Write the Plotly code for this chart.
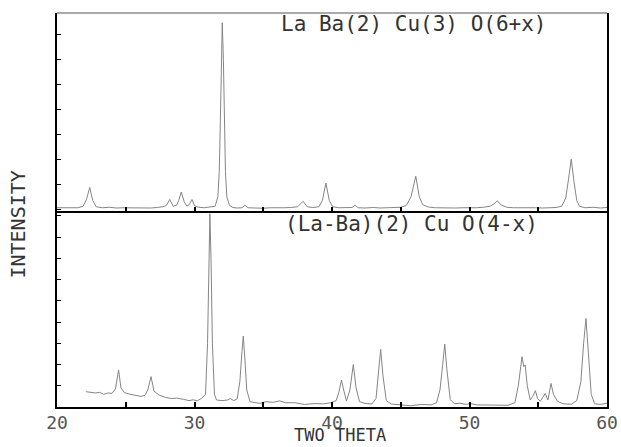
import plotly.graph_objects as go

# ---- data ----
# Top pattern: La Ba(2) Cu(3) O(6+x)
top_theta = [20.0, 20.5, 21.0, 21.5, 21.9, 22.15, 22.38, 22.6, 22.85, 23.3, 23.8, 24.3, 24.8, 25.3,
             25.8, 26.3, 26.8, 27.3, 27.7, 27.95, 28.2, 28.45, 28.7, 28.85, 29.04, 29.25, 29.45,
             29.6, 29.82, 30.0, 30.3, 30.7, 31.1, 31.5, 31.7, 31.8, 31.88, 31.95, 32.02, 32.1,
             32.17, 32.25, 32.35, 32.55, 32.8, 33.1, 33.45, 33.67, 33.9, 34.4, 35.0, 35.5, 36.0,
             36.5, 37.0, 37.5, 37.9, 38.2, 38.6, 39.05, 39.3, 39.56, 39.8, 40.05, 40.5, 41.0,
             41.45, 41.67, 41.9, 42.4, 43.0, 43.5, 44.0, 44.5, 45.0, 45.4, 45.75, 46.09, 46.35,
             46.6, 47.0, 47.5, 48.0, 48.5, 49.0, 49.5, 50.0, 50.5, 51.0, 51.5, 51.8, 52.0, 52.3,
             52.7, 53.2, 53.8, 54.3, 54.8, 55.3, 55.8, 56.3, 56.7, 57.0, 57.2, 57.4, 57.6, 57.8,
             58.0, 58.4, 59.0, 59.5, 60.0]
top_counts = [0.06, 0.05, 0.07, 0.06, 0.12, 0.40, 0.87, 0.35, 0.10, 0.06, 0.08, 0.05, 0.06, 0.05,
              0.07, 0.06, 0.05, 0.07, 0.10, 0.15, 0.39, 0.12, 0.16, 0.35, 0.69, 0.30, 0.12,
              0.18, 0.39, 0.14, 0.08, 0.06, 0.08, 0.12, 0.50, 1.50, 3.50, 6.00, 7.46, 6.00,
              3.50, 1.50, 0.50, 0.15, 0.07, 0.05, 0.06, 0.16, 0.06, 0.05, 0.04, 0.06, 0.05,
              0.06, 0.07, 0.10, 0.32, 0.10, 0.07, 0.10, 0.35, 1.05, 0.35, 0.10, 0.06, 0.05,
              0.07, 0.16, 0.06, 0.05, 0.07, 0.05, 0.06, 0.05, 0.08, 0.15, 0.50, 1.32, 0.50,
              0.18, 0.09, 0.06, 0.05, 0.07, 0.05, 0.06, 0.05, 0.06, 0.08, 0.12, 0.22, 0.34, 0.18,
              0.08, 0.06, 0.07, 0.05, 0.06, 0.05, 0.06, 0.07, 0.12, 0.45, 1.20, 2.00, 1.10, 0.35,
              0.12, 0.06, 0.08, 0.05, 0.07]

# Bottom pattern: (La-Ba)(2) Cu O(4-x)
bot_theta = [22.1, 22.4, 22.8, 23.1, 23.4, 23.7, 24.0, 24.25, 24.48, 24.65, 24.9, 25.3, 25.7, 26.1,
             26.4, 26.6, 26.84, 27.05, 27.4, 27.9, 28.3, 28.7, 29.2, 29.6, 29.9, 30.2, 30.5,
             30.8, 30.95, 31.05, 31.12, 31.2, 31.3, 31.45, 31.6, 32.0, 32.4, 32.6, 32.85, 33.1,
             33.3, 33.45, 33.55, 33.65, 33.8, 34.04, 34.4, 34.76, 35.2, 35.7, 36.2, 36.6, 37.3,
             38.0, 38.7, 39.4, 39.9, 40.3, 40.5, 40.69, 40.85, 41.05, 41.3, 41.55, 41.75, 42.0,
             42.4, 42.9, 43.2, 43.4, 43.54, 43.7, 43.95, 44.3, 45.0, 45.7, 46.5, 47.2, 47.6,
             47.85, 48.05, 48.2, 48.35, 48.6, 48.9, 49.3, 49.8, 50.0, 50.5, 51.2, 52.0, 52.8,
             53.3, 53.55, 53.82, 53.95, 54.05, 54.2, 54.42, 54.6, 54.79, 54.95, 55.15, 55.35,
             55.51, 55.7, 55.93, 56.1, 56.4, 56.8, 57.4, 57.8, 58.1, 58.3, 58.47, 58.65, 58.85,
             59.1, 59.5, 60.0]
bot_counts = [0.72, 0.70, 0.66, 0.69, 0.60, 0.66, 0.64, 0.85, 1.74, 0.90, 0.68, 0.60, 0.55, 0.50,
              0.55, 0.80, 1.43, 0.75, 0.57, 0.45, 0.40, 0.42, 0.36, 0.30, 0.34, 0.29, 0.40,
              0.60, 3.00, 7.60, 9.10, 7.00, 3.00, 0.60, 0.33, 0.30, 0.33, 0.40, 0.30, 0.38,
              1.20, 2.60, 3.34, 2.40, 0.80, 0.25, 0.20, 0.17, 0.25, 0.22, 0.29, 0.20, 0.20,
              0.12, 0.16, 0.15, 0.20, 0.30, 0.70, 1.27, 0.80, 0.28, 0.80, 2.00, 0.90, 0.25,
              0.17, 0.14, 0.40, 1.60, 2.71, 1.50, 0.30, 0.14, 0.10, 0.06, 0.12, 0.10, 0.20,
              0.80, 2.00, 2.96, 1.80, 0.35, 0.15, 0.18, 0.12, 0.17, 0.10, 0.09, 0.10, 0.08,
              0.20, 1.00, 2.37, 1.90, 1.98, 1.00, 0.33, 0.50, 0.77, 0.40, 0.27, 0.45,
              0.64, 0.33, 1.11, 0.60, 0.27, 0.15, 0.13, 0.30, 1.20, 3.00, 4.17, 2.50, 0.60,
              0.15, 0.12, 0.18]

x_tick_vals = [20, 30, 40, 50, 60]
x_tick_text = ["20", "30", "40", "50", "60"]
top_label = "La Ba(2) Cu(3) O(6+x)"
bot_label = "(La-Ba)(2) Cu O(4-x)"
x_title = "TWO THETA"
y_title = "INTENSITY"

FONT = "DejaVu Sans Mono"
TXT = "#333333"
LINE = "#858585"
SPLIT = 0.4987
PLOT_W = 621 - 57 - 14

def px(xpix):
    return (xpix - 57) / PLOT_W

fig = go.Figure()
fig.add_trace(go.Scatter(x=bot_theta, y=bot_counts, mode="lines",
                         line=dict(color=LINE, width=1), xaxis="x", yaxis="y",
                         showlegend=False, hoverinfo="skip"))
fig.add_trace(go.Scatter(x=top_theta, y=top_counts, mode="lines",
                         line=dict(color=LINE, width=1), xaxis="x2", yaxis="y2",
                         showlegend=False, hoverinfo="skip"))

fig.update_layout(
    width=621, height=447, autosize=False,
    margin=dict(l=57, r=14, t=13, b=40, autoexpand=False),
    paper_bgcolor="white", plot_bgcolor="white",
    font=dict(family=FONT, color=TXT, size=20),
    xaxis=dict(domain=[0, 1], range=[20, 60], showgrid=False, zeroline=False,
               showline=True, linecolor="black", linewidth=2, automargin=False,
               tickmode="array", tickvals=x_tick_vals, ticktext=x_tick_text,
               ticks="inside", ticklen=5, tickcolor="black", tickwidth=1.5,
               minor=dict(dtick=5, ticks="inside", ticklen=5, tickcolor="black", tickwidth=1.5),
               ticklabelstandoff=-2,
               tickfont=dict(family=FONT, size=18, color="#555555"), anchor="y"),
    yaxis=dict(domain=[0, SPLIT], range=[0, 9.25], showgrid=False, zeroline=False,
               showline=True, linecolor="black", linewidth=1.5, mirror=True, automargin=False,
               dtick=1, tick0=0, ticks="inside", ticklen=4, tickcolor="black",
               showticklabels=False, anchor="x"),
    xaxis2=dict(domain=[0, 1], range=[20, 60], showgrid=False, zeroline=False,
                showline=True, linecolor="black", linewidth=2, automargin=False,
                dtick=5, tick0=20, ticks="inside", ticklen=4, tickcolor="black", tickwidth=1.5,
                showticklabels=False, anchor="y2"),
    yaxis2=dict(domain=[SPLIT, 1], range=[-0.05, 7.85], showgrid=False, zeroline=False,
                showline=True, linecolor="black", linewidth=1.5, mirror=True, automargin=False,
                dtick=1, tick0=0, ticks="inside", ticklen=4, tickcolor="black",
                showticklabels=False, anchor="x2"),
    shapes=[dict(type="line", xref="paper", yref="paper", x0=0, x1=1, y0=1, y1=1,
                 line=dict(color="#555555", width=1))],
    annotations=[
        dict(text=top_label, xref="paper", yref="paper", x=px(413.5), y=0.972,
             xanchor="center", yanchor="middle", showarrow=False,
             font=dict(family=FONT, size=21, color=TXT)),
        dict(text=bot_label, xref="paper", yref="paper", x=px(411.5), y=0.4645,
             xanchor="center", yanchor="middle", showarrow=False,
             font=dict(family=FONT, size=21, color=TXT)),
        dict(text=x_title, xref="paper", yref="paper", x=px(340), y=-0.1015,
             xanchor="center", yanchor="bottom", showarrow=False,
             font=dict(family=FONT, size=17, color=TXT)),
        dict(text=y_title, xref="paper", yref="paper", x=px(18), y=0.463,
             xanchor="center", yanchor="middle", showarrow=False, textangle=-90,
             font=dict(family=FONT, size=20, color=TXT)),
    ],
)

fig.write_html(
    "out.html",
    config={"displayModeBar": False, "responsive": False},
    post_script=("document.documentElement.style.overflow='hidden';"
                 "document.body.style.overflow='hidden';"
                 "document.body.style.margin='0px';"),
)
